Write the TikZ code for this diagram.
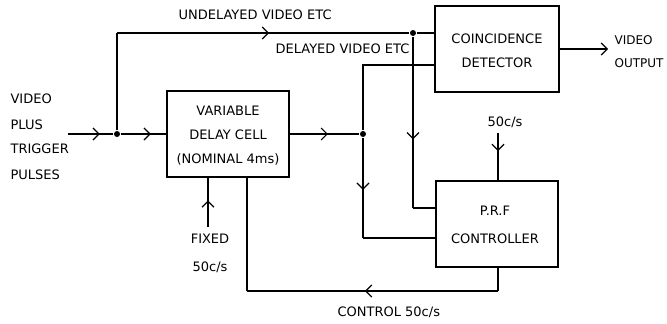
\documentclass[tikz,border=0pt]{standalone}
\usepackage{fontspec}
\setmainfont{DejaVu Sans}
\usetikzlibrary{arrows.meta,decorations.markings}
\begin{document}
\begin{tikzpicture}[x=1pt,y=-1pt,line width=1.2pt,
  block/.style={draw,minimum width=122pt,minimum height=86pt,inner sep=0pt},
  midarrow/.style={postaction={decorate},decoration={markings,mark=at position #1 with {\arrow{Straight Barb[length=6pt,width=12pt,line width=1.2pt]}}}},
  endarrow/.style={-{Straight Barb[length=6pt,width=12pt]}},
  lbl/.style={font=\fontsize{13}{15}\selectfont,inner sep=0pt},
  btxt/.style={font=\fontsize{13}{24}\selectfont,align=center,inner sep=0pt},
  dot/.style={circle,fill,inner sep=0pt,minimum size=6pt}]
\useasboundingbox (0,0) rectangle (667,324);
% blocks
\node[block] (vdc) at (228,134) {};
\node[btxt] (vdct) at (228,136) {VARIABLE\\DELAY CELL\\(NOMINAL 4ms)};
\node[block,minimum width=124pt] (coin) at (497,49) {};
\node[btxt] (coint) at (497,51) {COINCIDENCE\\DETECTOR};
\node[block] (prf) at (497,224) {};
\node[btxt,font=\fontsize{13}{28}\selectfont] (prft) at (495,225) {P.R.F\\CONTROLLER};
% junctions and corners
\coordinate (in) at (68,134);
\node[dot] (j1) at (117,134) {};
\coordinate (c1) at (117,33);
\node[dot] (j2) at (413,33) {};
\coordinate (c2) at (413,208);
\node[dot] (j3) at (363,134) {};
\coordinate (c3) at (363,65);
\coordinate (c4) at (363,238);
\coordinate (f1) at (498,133);
\coordinate (vo) at (608,49);
\coordinate (k1) at (498,291);
\coordinate (k2) at (247,291);
\coordinate (fx) at (208,227);
% connectors
\draw[midarrow=0.7] (in) -- (j1);
\draw[midarrow=0.66] (j1) -- (vdc.west);
\draw (j1) -- (c1);
\draw[midarrow=0.52] (c1) -- (j2);
\draw (j2) -- (j2 -| coin.west);
\draw[midarrow=0.6] (j2) -- (c2);
\draw (c2) -- (c2 -| prf.west);
\draw[midarrow=0.55] (vdc.east) -- (j3);
\draw (j3) -- (c3) -- (c3 -| coin.west);
\draw[midarrow=0.52] (j3) -- (c4);
\draw (c4) -- (c4 -| prf.west);
\draw[midarrow=0.38] (f1) -- (f1 |- prf.north);
\draw[endarrow] (coin.east) -- (vo);
\draw (k1 |- prf.south) -- (k1);
\draw[midarrow=0.53] (k1) -- (k2);
\draw (k2) -- (k2 |- vdc.south);
\draw[midarrow=0.54] (fx) -- (fx |- vdc.south);
% labels
\node[lbl,anchor=west] (l1) at (178,15) {UNDELAYED VIDEO ETC};
\node[lbl,anchor=west] (l2) at (275,49) {DELAYED VIDEO ETC};
\node[lbl,anchor=west] (l3) at (337,312) {CONTROL 50c/s};
\node[lbl] (l4) at (210,239) {FIXED};
\node[lbl] (l5) at (210,267) {50c/s};
\node[lbl,anchor=west,font=\fontsize{12}{14}\selectfont] (l6) at (614,40) {VIDEO};
\node[lbl,anchor=west,font=\fontsize{12}{14}\selectfont] (l7) at (614,63) {OUTPUT};
\node[lbl,anchor=west] (l8) at (487,122) {50c/s};
\node[lbl,anchor=west] (i1) at (10,99) {VIDEO};
\node[lbl,anchor=west] (i2) at (10,125) {PLUS};
\node[lbl,anchor=west] (i3) at (10,149) {TRIGGER};
\node[lbl,anchor=west] (i4) at (10,175) {PULSES};
\end{tikzpicture}
\end{document}
